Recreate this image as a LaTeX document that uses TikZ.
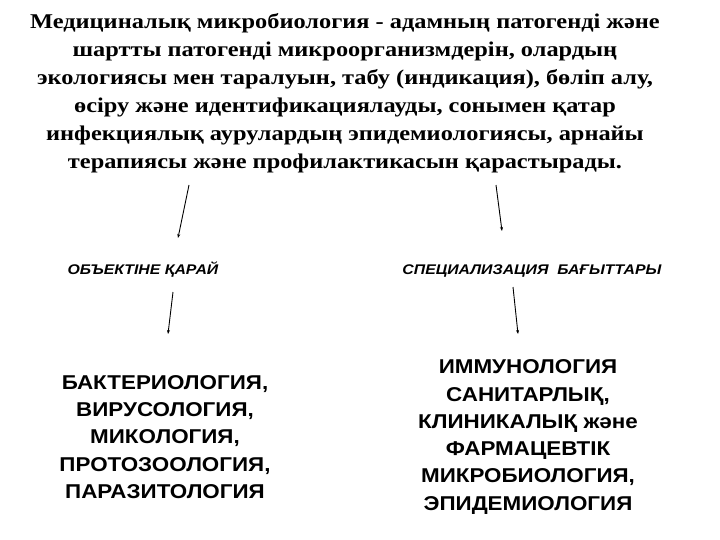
\documentclass[tikz,border=0pt]{standalone}
\usepackage{fontspec}
\setmainfont{Liberation Serif}
\newfontfamily\tserif[FakeStretch=1.16]{Liberation Serif}
\newfontfamily\lsans[FakeStretch=1.12]{Liberation Sans}
\newfontfamily\hsans[FakeStretch=1.13]{Liberation Sans}
\usetikzlibrary{arrows.meta}
\tikzset{
  titletext/.style={align=center, font=\tserif\bfseries\fontsize{21}{28}\selectfont, inner sep=0pt},
  headtext/.style={font=\hsans\bfseries\itshape\fontsize{14}{16}\selectfont, inner sep=0pt},
  listtext/.style={align=center, font=\lsans\bfseries\fontsize{20}{27.3}\selectfont, inner sep=0pt},
  arr/.style={-{Stealth[length=4pt,width=3pt]}, line width=0.9pt}
}
\begin{document}
\begin{tikzpicture}[x=1pt,y=-1pt]
\useasboundingbox (0,0) rectangle (720,540);
\node[titletext] (title) at (345,93) {Медициналық микробиология - адамның патогенді және\\
шартты патогенді микроорганизмдерін, олардың\\
экологиясы мен таралуын, табу (индикация), бөліп алу,\\
өсіру және идентификациялауды, сонымен қатар\\
инфекциялық аурулардың эпидемиологиясы, арнайы\\
терапиясы және профилактикасын қарастырады.};
\coordinate (t1) at (189,185);
\coordinate (t2) at (496,185);
\node[headtext] (h1) at (143,270) {ОБЪЕКТІНЕ ҚАРАЙ};
\node[headtext] (h2) at (532,271) {СПЕЦИАЛИЗАЦИЯ\ \ БАҒЫТТАРЫ};
\node[listtext] (l1) at (165,437) {БАКТЕРИОЛОГИЯ,\\ВИРУСОЛОГИЯ,\\МИКОЛОГИЯ,\\ПРОТОЗООЛОГИЯ,\\ПАРАЗИТОЛОГИЯ};
\node[listtext] (l2) at (528,437) {ИММУНОЛОГИЯ\\САНИТАРЛЫҚ,\\КЛИНИКАЛЫҚ және\\ФАРМАЦЕВТІК\\МИКРОБИОЛОГИЯ,\\ЭПИДЕМИОЛОГИЯ};
\coordinate (a1) at (178,238);
\coordinate (a2) at (502,231);
\coordinate (b1) at (173,292);
\coordinate (b2) at (513,287);
\coordinate (c1) at (168,334);
\coordinate (c2) at (518,334);
\draw[arr] (t1) -- (a1);
\draw[arr] (t2) -- (a2);
\draw[arr] (b1) -- (c1);
\draw[arr] (b2) -- (c2);
\end{tikzpicture}
\end{document}
